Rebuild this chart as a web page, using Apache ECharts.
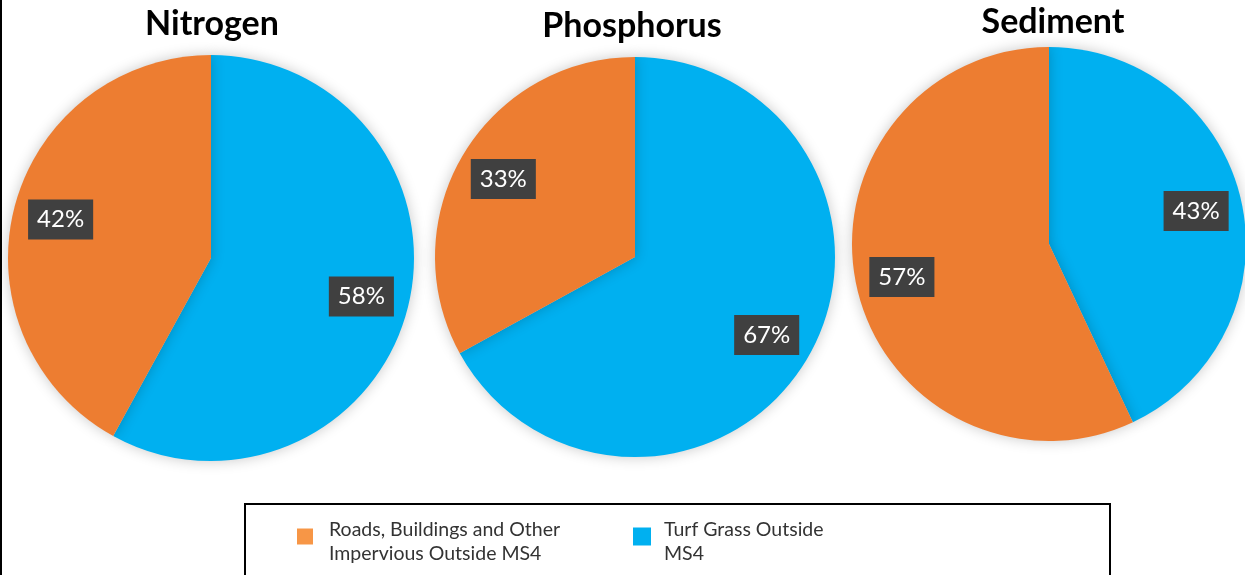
<!DOCTYPE html>
<html>
<head>
<meta charset="utf-8">
<script src="https://cdn.jsdelivr.net/npm/echarts@6/dist/echarts.min.js"></script>
<style>html,body{margin:0;padding:0;background:#fff}#c{width:1245px;height:575px}</style>
</head>
<body>
<div id="c"></div>
<script>
// ---- data ----
const categories = ['Roads, Buildings and Other Impervious Outside MS4', 'Turf Grass Outside MS4'];
const legendLines = [['Roads, Buildings and Other', 'Impervious Outside MS4'], ['Turf Grass Outside', 'MS4']];
const pollutants = ['Nitrogen', 'Phosphorus', 'Sediment'];
const roadsValues = [42, 33, 57];
const turfValues = [58, 67, 43];

// ---- style ----
const sliceColors = { roads: '#ED7D31', turf: '#00B0F0' };
const legendColors = { roads: '#F79646', turf: '#00B0F0' };
const FONT = 'Lato';
const pies = [
  { center: [211, 258], r: 203, titleX: 212, titleY: 7 },
  { center: [635, 257], r: 200, titleX: 632, titleY: 9 },
  { center: [1049, 244], r: 197, titleX: 1053, titleY: 5 }
];

const chart = echarts.init(document.getElementById('c'), null, { renderer: 'canvas' });

const series = [];
const titles = [];
pollutants.forEach((p, i) => {
  const g = pies[i];
  const data = [
    { name: categories[1], value: turfValues[i], itemStyle: { color: sliceColors.turf } },
    { name: categories[0], value: roadsValues[i], itemStyle: { color: sliceColors.roads } }
  ];
  titles.push({
    text: p, left: g.titleX, top: g.titleY, textAlign: 'center', padding: 0,
    textStyle: { fontFamily: FONT, fontWeight: 'bold', fontSize: 34, color: '#000' }
  });
  // filled pie
  series.push({
    type: 'pie', name: p, center: g.center, radius: [0, g.r],
    startAngle: 90, clockwise: true, silent: true, animation: false,
    label: { show: false }, labelLine: { show: false },
    itemStyle: { borderWidth: 0, shadowBlur: 14, shadowColor: 'rgba(0,0,0,0.22)' },
    data: data
  });
  // transparent ring to carry labels at ~3/4 radius
  series.push({
    type: 'pie', name: p + ' labels', center: g.center, radius: [g.r * 0.5, g.r],
    startAngle: 90, clockwise: true, silent: true, animation: false,
    itemStyle: { color: 'rgba(0,0,0,0)', borderWidth: 0 },
    label: {
      show: true, position: 'inside', formatter: '{c}%',
      color: '#fff', fontFamily: FONT, fontSize: 24,
      backgroundColor: '#404040', padding: [9, 9, 7, 9]
    },
    labelLine: { show: false },
    data: data.map(d => ({ name: d.name, value: d.value }))
  });
});

const legendRich = {
  s: { fontSize: 1, lineHeight: 10 },
  t: { fontFamily: FONT, fontSize: 19.5, color: '#333', lineHeight: 24 }
};
const legendFmt = (k) => () => '{s| }\n{t|' + legendLines[k][0] + '}\n{t|' + legendLines[k][1] + '}';

chart.setOption({
  backgroundColor: '#fff',
  animation: false,
  title: titles,
  legend: [
    {
      left: 297, top: 512, padding: 0, itemWidth: 16, itemHeight: 16, icon: 'rect', selectedMode: false,
      data: [{ name: categories[0], itemStyle: { color: legendColors.roads } }],
      formatter: legendFmt(0), textStyle: { padding: [0, 0, 0, 11], rich: legendRich }
    },
    {
      left: 633, top: 512, padding: 0, itemWidth: 18, itemHeight: 18, icon: 'rect', selectedMode: false,
      data: [{ name: categories[1], itemStyle: { color: legendColors.turf } }],
      formatter: legendFmt(1), textStyle: { padding: [0, 0, 0, 8], rich: legendRich }
    }
  ],
  graphic: [
    { type: 'line', shape: { x1: 1, y1: 0, x2: 1, y2: 575 }, style: { stroke: '#000', lineWidth: 2 }, silent: true },
    { type: 'rect', shape: { x: 245, y: 504, width: 865, height: 90 }, style: { fill: 'none', stroke: '#000', lineWidth: 2 }, silent: true }
  ],
  series: series
});
</script>
</body>
</html>
